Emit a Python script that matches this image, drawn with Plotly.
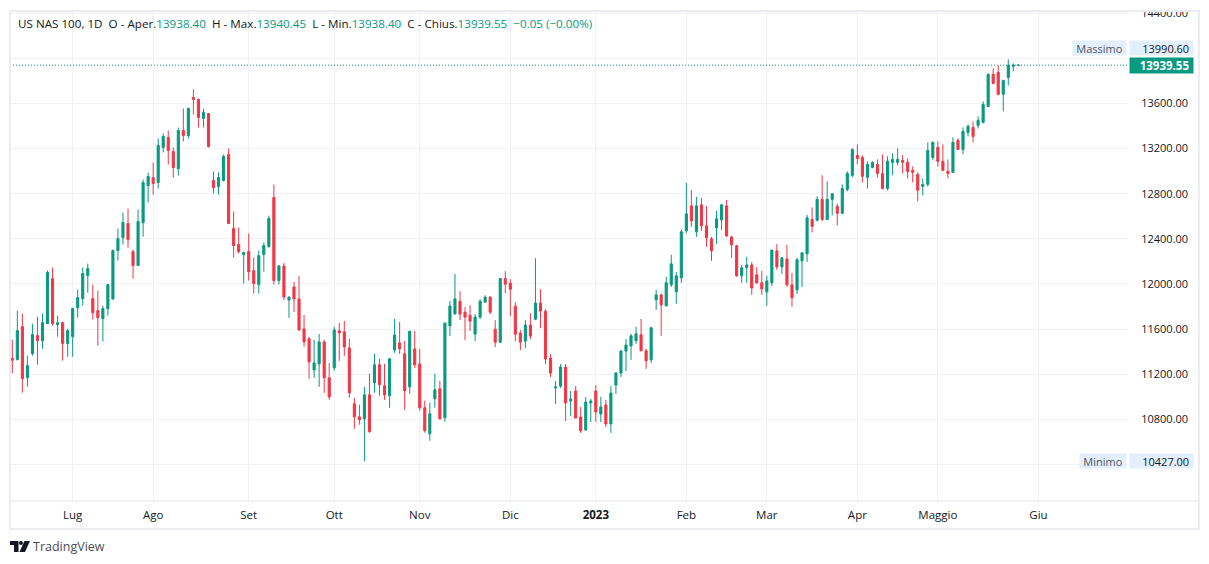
import plotly.graph_objects as go

# Daily candles, oldest first
opens = [
    11341, 11329, 11622, 11169, 11382, 11542, 11497, 11648, 12047, 11639,
    11657, 11471, 11533, 11790, 11870, 12074, 11870, 11763, 11692, 11781,
    11867, 12296, 12411, 12535, 12287, 12163, 12544, 12872, 12943, 12899,
    13209, 13298, 13174, 13023, 13360, 13316, 13653, 13635, 13467, 13511,
    12917, 12863, 12917, 13147, 12491, 12349, 12260, 12287, 12118, 11994,
    12260, 12331, 12766, 12030, 12159, 11858, 11973, 11867, 11601, 11513,
    11238, 11291, 11486, 11168, 11256, 11584, 11575, 11433, 10937, 10822,
    10805, 11017, 11123, 11283, 11097, 11008, 11415, 11477, 11380, 11088,
    11424, 11291, 10902, 10672, 10982, 11070, 10814, 11628, 11734, 11847,
    11750, 11723, 11555, 11706, 11838, 11883, 11599, 11484, 12048, 12007,
    11803, 11564, 11493, 11635, 11688, 11830, 11759, 11343, 11077, 11095,
    11263, 10962, 11051, 10821, 10706, 10945, 11051, 10847, 10927, 10759,
    11104, 11210, 11405, 11451, 11496, 11549, 11407, 11327, 11859, 11903,
    11806, 11992, 11930, 12054, 12471, 12692, 12462, 12701, 12515, 12400,
    12497, 12568, 12692, 12417, 12338, 12072, 12143, 12169, 12081, 12010,
    11930, 12010, 12293, 12151, 12222, 11992, 11948, 12205, 12267, 12572,
    12564, 12750, 12572, 12750, 12688, 12626, 12838, 12963, 13140, 13122,
    12945, 13033, 13060, 12980, 12847, 13078, 13078, 13096, 13078, 13007,
    12971, 12865, 12883, 13122, 13211, 13087, 12998, 12989, 13273, 13193,
    13344, 13388, 13406, 13432, 13574, 13858, 13876, 13681, 13831, 13929, 13938.40,
]
highs = [
    11506, 11763, 11737, 11364, 11648, 11710, 11737, 12118, 12145, 11719,
    11666, 11604, 11790, 11950, 12145, 12180, 11994, 11941, 11808, 11998,
    12305, 12491, 12633, 12668, 12305, 12659, 12926, 12988, 13076, 13289,
    13334, 13360, 13209, 13387, 13555, 13564, 13724, 13644, 13555, 13514,
    12997, 12988, 13147, 13201, 12642, 12500, 12287, 12447, 12234, 12296,
    12367, 12606, 12881, 12163, 12185, 11888, 12017, 12070, 11725, 11530,
    11504, 11557, 11504, 11300, 11619, 11654, 11672, 11513, 10991, 10929,
    11088, 11203, 11380, 11336, 11291, 11345, 11690, 11663, 11495, 11584,
    11584, 11424, 10964, 10946, 11203, 11141, 11654, 11849, 12088, 11936,
    11794, 11812, 11732, 11865, 11900, 11892, 11679, 12051, 12113, 12042,
    11838, 11591, 11679, 11741, 12228, 11953, 11776, 11378, 11139, 11290,
    11290, 11051, 11095, 10909, 10998, 10980, 11104, 10998, 10971, 11095,
    11219, 11414, 11511, 11558, 11620, 11691, 11425, 11620, 11948, 11912,
    12063, 12258, 12107, 12480, 12896, 12834, 12772, 12763, 12692, 12417,
    12648, 12710, 12745, 12426, 12347, 12169, 12240, 12196, 12151, 12116,
    12072, 12302, 12355, 12240, 12347, 12098, 12231, 12284, 12612, 12679,
    12776, 12963, 12909, 12803, 12714, 12883, 12998, 13202, 13237, 13140,
    13087, 13087, 13104, 13149, 13131, 13158, 13202, 13140, 13113, 13042,
    12989, 12936, 13255, 13264, 13264, 13237, 13104, 13299, 13291, 13388,
    13415, 13441, 13486, 13619, 13867, 13911, 13938, 13805, 13990.60, 13955, 13940.45,
]
lows = [
    11208, 11323, 11036, 11089, 11364, 11284, 11426, 11645, 11630, 11533,
    11320, 11355, 11355, 11701, 11808, 11923, 11684, 11453, 11488, 11719,
    11861, 12207, 12349, 12322, 12047, 12160, 12420, 12722, 12792, 12846,
    13165, 13059, 12943, 12961, 13263, 13289, 13502, 13387, 13387, 13209,
    12801, 12792, 12908, 12532, 12234, 12269, 12003, 12030, 11914, 11914,
    12109, 12322, 11994, 11994, 11858, 11699, 11752, 11584, 11442, 11159,
    11168, 11088, 11035, 10973, 11230, 11318, 11362, 10991, 10716, 10752,
    10427, 10681, 11035, 11008, 10973, 10902, 11389, 11380, 10884, 11026,
    11256, 10876, 10681, 10610, 10902, 10796, 10778, 11539, 11730, 11679,
    11502, 11582, 11493, 11688, 11835, 11732, 11440, 11476, 11918, 11715,
    11493, 11414, 11431, 11511, 11679, 11608, 11290, 11175, 10936, 11077,
    10785, 10830, 10808, 10679, 10697, 10776, 10776, 10776, 10732, 10679,
    11024, 11175, 11228, 11327, 11469, 11405, 11247, 11300, 11770, 11540,
    11800, 11974, 11824, 12010, 12453, 12506, 12417, 12471, 12329, 12205,
    12355, 12480, 12417, 12231, 12063, 12010, 12010, 11903, 12001, 11903,
    11806, 11983, 12125, 12089, 11974, 11797, 11912, 11974, 12196, 12457,
    12555, 12555, 12570, 12608, 12519, 12623, 12821, 12945, 13060, 12900,
    12847, 13025, 12945, 12838, 12830, 12963, 13051, 12980, 12936, 12900,
    12732, 12785, 12865, 13096, 13042, 13005, 12936, 12985, 13190, 13149,
    13308, 13255, 13379, 13423, 13570, 13769, 13672, 13530, 13760, 13885, 13938.40,
]
closes = [
    11323, 11586, 11160, 11276, 11551, 11497, 11657, 12101, 11648, 11657,
    11471, 11586, 11781, 11879, 12092, 12136, 11746, 11701, 11781, 11994,
    12296, 12402, 12544, 12393, 12163, 12553, 12899, 12952, 12890, 13227,
    13307, 13183, 13032, 13360, 13316, 13555, 13635, 13476, 13520, 13218,
    12855, 12943, 13130, 12535, 12340, 12287, 12278, 12109, 12003, 12251,
    12340, 12580, 12030, 12160, 11884, 11884, 11867, 11592, 11486, 11309,
    11300, 11486, 11168, 10999, 11592, 11566, 11442, 11035, 10822, 10796,
    11017, 10690, 11283, 11106, 11017, 11336, 11548, 11424, 11053, 11580,
    11283, 10902, 10699, 10849, 11061, 10805, 11654, 11805, 11867, 11732,
    11706, 11670, 11706, 11847, 11883, 11750, 11484, 12048, 11998, 11953,
    11555, 11484, 11635, 11538, 11830, 11759, 11334, 11210, 11086, 11263,
    10945, 10980, 10812, 10697, 10953, 10962, 10865, 10909, 10759, 11033,
    11210, 11405, 11458, 11540, 11558, 11407, 11318, 11611, 11903, 11815,
    12010, 12178, 12072, 12462, 12621, 12559, 12692, 12515, 12409, 12293,
    12577, 12701, 12426, 12347, 12072, 12143, 12169, 11965, 12010, 11956,
    12027, 12300, 12151, 12231, 11992, 11877, 12214, 12276, 12586, 12510,
    12750, 12572, 12750, 12800, 12626, 12847, 12980, 13193, 13113, 12954,
    13060, 13078, 12980, 12847, 13087, 13104, 13104, 13078, 12998, 12989,
    12830, 12883, 13184, 13255, 13087, 13007, 12980, 13255, 13193, 13353,
    13397, 13308, 13450, 13592, 13858, 13778, 13681, 13805, 13938, 13938, 13939.55,
]

# Month labels sit on the first candle of each month
month_positions = [12, 28, 47, 64, 81, 99, 116, 134, 150, 168, 184, 204]
month_labels = ['Lug', 'Ago', 'Set', 'Ott', 'Nov', 'Dic', '<b>2023</b>',
                'Feb', 'Mar', 'Apr', 'Maggio', 'Giu']
price_ticks = [10400, 10800, 11200, 11600, 12000, 12400, 12800, 13200, 13600, 14000, 14400]
# 10400 and 14000 keep their grid lines, the price badges sit where their labels would be
price_labels = ['', '10800.00', '11200.00', '11600.00', '12000.00', '12400.00',
                '12800.00', '13200.00', '13600.00', '', '14400.00']

last_price = 13939.55
max_price = 13990.60
min_price = 10427.00

GREEN = '#089981'
RED = '#F23645'
TEXT = '#131722'
GRID = '#F1F2F6'
FRAME = '#ECEDF3'
BADGE = '#E3EFFD'
FONT = 'Open Sans'

W, H = 1209, 564
LEFT, RIGHT, TOP, BOTTOM = 10, 1129, 12, 501


# Shapes and labels outside the plot are placed in paper units
def px(x):
    return (x - LEFT) / (RIGHT - LEFT)


def py(y):
    return (BOTTOM - y) / (BOTTOM - TOP)


def green(text):
    return f'<span style="color:{GREEN}">{text}</span>'


# Values on the badges line up with the axis labels
def badge_value(price):
    return f'{price:.2f}\u00a0'


fig = go.Figure(go.Candlestick(
    x=list(range(len(opens))),
    open=opens,
    high=highs,
    low=lows,
    close=closes,
    increasing=dict(line=dict(color=GREEN, width=1), fillcolor=GREEN),
    decreasing=dict(line=dict(color=RED, width=1), fillcolor=RED),
    whiskerwidth=0,
    hoverinfo='skip',
))

header = ('US NAS 100, 1D\u00a0\u00a0O - Aper.' + green('13938.40')
          + '\u00a0\u00a0H - Max.' + green('13940.45')
          + '\u00a0\u00a0L - Min.' + green('13938.40')
          + '\u00a0\u00a0C - Chius.' + green('13939.55')
          + '\u00a0\u00a0' + green('\u22120.05 (\u22120.00%)'))

annotations = [
    dict(xref='paper', yref='paper', x=px(16), y=py(24), text=header, showarrow=False,
         xanchor='left', yanchor='middle', font=dict(family=FONT, size=11.65, color=TEXT)),
    dict(xref='paper', yref='paper', x=px(1072), y=py(48), text='Massimo', showarrow=False,
         xanchor='left', yanchor='middle', width=51, height=12, bgcolor=BADGE, align='center',
         font=dict(family=FONT, size=11, color='#50535E')),
    dict(xref='paper', yref='paper', x=px(1129), y=py(48), text=badge_value(max_price), showarrow=False,
         xanchor='left', yanchor='middle', width=61, height=12, bgcolor=BADGE, align='right',
         font=dict(family=FONT, size=11, color=TEXT)),
    dict(xref='paper', yref='y', x=px(1129), y=last_price, text=f'<b>{last_price:.2f}</b>\u00a0', showarrow=False,
         xanchor='left', yanchor='middle', width=61, height=13, bgcolor=GREEN, align='right',
         font=dict(family=FONT, size=11.5, color='white')),
    dict(xref='paper', yref='y', x=px(1079), y=min_price, text='Minimo', showarrow=False,
         xanchor='left', yanchor='middle', width=44, height=12, bgcolor=BADGE, align='center',
         font=dict(family=FONT, size=11, color='#50535E')),
    dict(xref='paper', yref='y', x=px(1129), y=min_price, text=badge_value(min_price), showarrow=False,
         xanchor='left', yanchor='middle', width=61, height=12, bgcolor=BADGE, align='right',
         font=dict(family=FONT, size=11, color=TEXT)),
    dict(xref='paper', yref='paper', x=px(31), y=py(546), text='TradingView', showarrow=False,
         xanchor='left', yanchor='middle', font=dict(family=FONT, size=12.5, color='#4A4E59')),
]


def logo_path(points):
    return 'M' + ' L'.join(f'{px(x):.5f} {py(y):.5f}' for x, y in points) + ' Z'


shapes = [
    # Last price line
    dict(type='line', xref='paper', yref='y', x0=0, x1=1, y0=last_price, y1=last_price,
         line=dict(color=GREEN, width=1, dash='1px,2px'), layer='above'),
    # Mask that clips the top axis label, then the outer frame and the time axis line
    dict(type='rect', xref='paper', yref='paper', x0=px(1120), x1=px(1209), y0=py(0), y1=py(TOP - 1),
         fillcolor='white', line=dict(width=0), layer='above'),
    dict(type='rect', xref='paper', yref='paper', x0=px(10), x1=px(1199), y0=py(529), y1=py(11),
         line=dict(color=FRAME, width=2), layer='above'),
    dict(type='line', xref='paper', yref='paper', x0=px(10), x1=px(1199), y0=py(501), y1=py(501),
         line=dict(color='#E0E3EB', width=1), layer='above'),
    # TradingView mark
    dict(type='path', xref='paper', yref='paper', fillcolor=TEXT, line=dict(width=0), layer='above',
         path=logo_path([(10, 541), (18.5, 541), (18.5, 552), (14, 552), (14, 545), (10, 545)])),
    dict(type='circle', xref='paper', yref='paper', fillcolor=TEXT, line=dict(width=0), layer='above',
         x0=px(19), x1=px(23), y0=py(545), y1=py(541)),
    dict(type='path', xref='paper', yref='paper', fillcolor=TEXT, line=dict(width=0), layer='above',
         path=logo_path([(24.5, 541), (30, 541), (25, 552), (19.5, 552)])),
]

fig.update_layout(
    width=W,
    height=H,
    margin=dict(l=LEFT, r=W - RIGHT, t=TOP, b=H - BOTTOM, pad=0),
    paper_bgcolor='white',
    plot_bgcolor='white',
    showlegend=False,
    hovermode=False,
    boxgap=0.4,
    annotations=annotations,
    shapes=shapes,
    xaxis=dict(
        automargin=False,
        range=[-0.46, 222.0],
        rangeslider_visible=False,
        tickmode='array',
        tickvals=month_positions,
        ticktext=month_labels,
        showgrid=True,
        gridcolor=GRID,
        gridwidth=1,
        zeroline=False,
        showline=False,
        ticks='outside',
        ticklen=3,
        tickcolor='rgba(0,0,0,0)',
        tickfont=dict(family=FONT, size=11.5, color=TEXT),
    ),
    yaxis=dict(
        automargin=False,
        side='right',
        range=[10075.6, 14411],
        tickmode='array',
        tickvals=price_ticks,
        ticktext=price_labels,
        showgrid=True,
        gridcolor=GRID,
        gridwidth=1,
        zeroline=False,
        showline=False,
        ticks='outside',
        ticklen=9,
        tickcolor='rgba(0,0,0,0)',
        tickfont=dict(family=FONT, size=11, color=TEXT),
    ),
)

# The page's default body margin would push the fixed-size figure out of place
fig.write_html("out.html", config=dict(displayModeBar=False),
               post_script="document.body.style.margin = '0';")
